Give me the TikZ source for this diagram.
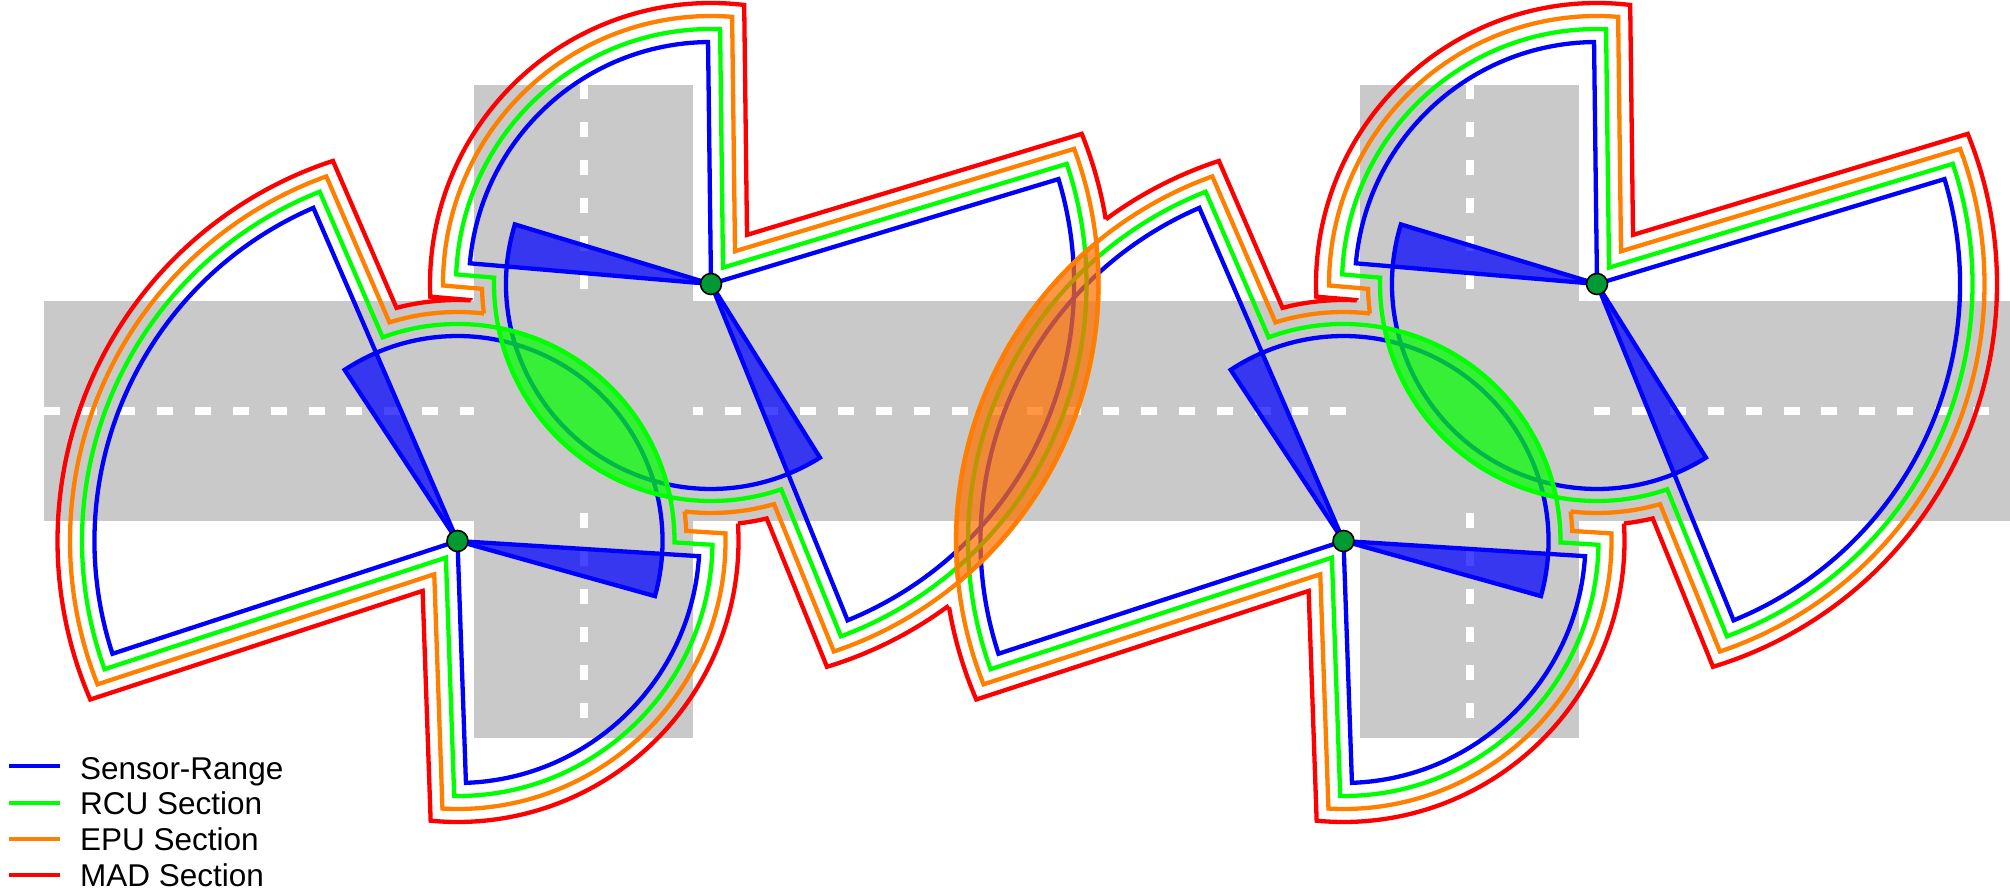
\documentclass[tikz,border=0pt]{standalone}
\usepackage{fontspec}
\setmainfont{Liberation Sans}
\usetikzlibrary{calc}
\definecolor{roadgrey}{RGB}{201,201,201}
\definecolor{cblue}{RGB}{0,0,255}
\definecolor{cgreen}{RGB}{0,255,0}
\definecolor{corange}{RGB}{255,128,0}
\definecolor{clensorange}{RGB}{255,112,0}
\definecolor{cred}{RGB}{255,0,0}
\definecolor{dotgreen}{RGB}{0,153,51}
\tikzset{
  road/.style={fill=roadgrey},
  dashmark/.style={fill=white},
  line/.style={line width=4.3pt,line join=miter,miter limit=40},
  bluel/.style={line,draw=cblue},
  greenl/.style={line,draw=cgreen},
  orangel/.style={line,draw=corange},
  redl/.style={line,draw=cred},
  wedgefill/.style={fill=cblue,fill opacity=.72},
  greenlens/.style={fill=cgreen,draw=cgreen,line width=4.3pt,fill opacity=.72,draw opacity=.72},
  orangelens/.style={fill=clensorange,draw=corange,line width=4.3pt,fill opacity=.72,draw opacity=.72},
  sensordot/.style={circle,fill=dotgreen,draw=black,line width=1.6pt,minimum size=21pt,inner sep=0pt},
  legendtext/.style={anchor=base west,inner sep=0pt,font=\fontsize{31.5}{36}\selectfont},
}
\newif\iftail
% levels: big, small, wide radius and offset
\newcommand\setlevel[4]{\def\Rb{#1}\def\Rs{#2}\def\Rw{#3}\def\dd{#4}}
% #1 style, #2 centre, #3 rotation, #4 #5 cut of the big arc, #6 #7 cut of the wide arc
% with \tailfalse the small arc stops at angle #6 and the wide part is left out
\newcommand\contour[7]{%
  \pgfmathsetmacro\bs{113.4+#3-asin(\dd/\Rb)}%
  \pgfmathsetmacro\be{198.1+#3+asin(\dd/\Rb)}%
  \pgfmathsetmacro\ss{272+#3-asin(\dd/\Rs)}%
  \pgfmathsetmacro\se{356.4+#3+asin(\dd/\Rs)}%
  \pgfmathsetmacro\ws{356.4+#3+asin(\dd/\Rw)}%
  \pgfmathsetmacro\we{473.4+#3-asin(\dd/\Rw)}%
  \pgfmathsetmacro\apa{235.05+#3}%
  \pgfmathsetmacro\apl{\dd/sin(36.95)}%
  \iftail
  \draw[#1] ($(#2)+(#5:\Rb pt)$) arc[start angle=#5,end angle=\be,radius=\Rb pt]
    -- ($(#2)+(\apa:\apl pt)$) -- ($(#2)+(\ss:\Rs pt)$)
    arc[start angle=\ss,end angle=\se,radius=\Rs pt]
    -- ($(#2)+(\ws:\Rw pt)$) arc[start angle=\ws,end angle=#6,radius=\Rw pt];
  \else
  \draw[#1] ($(#2)+(#5:\Rb pt)$) arc[start angle=#5,end angle=\be,radius=\Rb pt]
    -- ($(#2)+(\apa:\apl pt)$) -- ($(#2)+(\ss:\Rs pt)$)
    arc[start angle=\ss,end angle=#6,radius=\Rs pt];
  \fi
  \draw[#1] ($(#2)+(#7:\Rw pt)$) arc[start angle=#7,end angle=\we,radius=\Rw pt]
    -- ($(#2)+(\bs:\Rb pt)$) arc[start angle=\bs,end angle=#4,radius=\Rb pt];
}
% blue sectors and wedges of one sensor: #1 centre, #2 rotation
\newcommand\sectors[2]{%
  \pgfmathsetmacro\ra{113.4+#2}\pgfmathsetmacro\rb{198.1+#2}%
  \pgfmathsetmacro\rc{272+#2}\pgfmathsetmacro\rd{356.4+#2}%
  \pgfmathsetmacro\re{344.4+#2}\pgfmathsetmacro\rf{483.4+#2}%
  \pgfmathsetmacro\rg{473.4+#2}%
  \fill[wedgefill] (#1) -- ($(#1)+(\rg:205pt)$) arc[start angle=\rg,end angle=\rf,radius=205pt] -- cycle;
  \fill[wedgefill] (#1) -- ($(#1)+(\re:205pt)$) arc[start angle=\re,end angle=\rd,radius=205pt] -- cycle;
  \draw[bluel] (#1) -- ($(#1)+(\ra:363pt)$) arc[start angle=\ra,end angle=\rb,radius=363pt] -- cycle;
  \draw[bluel] (#1) -- ($(#1)+(\rc:242pt)$) arc[start angle=\rc,end angle=\rd,radius=242pt] -- cycle;
  \draw[bluel] (#1) -- ($(#1)+(\re:205pt)$) arc[start angle=\re,end angle=\rf,radius=205pt] -- cycle;
}
% lens of the two circles of radius 217 about #1 (lower left) and #2 (upper right)
\newcommand\greenlensat[2]{%
  \path[greenlens] ($(#1)+(79.10:217pt)$) arc[start angle=79.10,end angle=11.68,radius=217pt]
    arc[start angle=259.10,end angle=191.68,radius=217pt] -- cycle;
}
\begin{document}
\begin{tikzpicture}[x=1pt,y=1pt]
\useasboundingbox (0,0) rectangle (2010,891);
\coordinate (A) at (457.5,350);
\coordinate (B) at (711,607);
\coordinate (A2) at (1343.5,350);
\coordinate (B2) at (1597,607);
% roads
\fill[road] (43.6,370.3) rectangle (2010,590);
\foreach \s in {0,886}{
  \fill[road] (474.3+\s,153) rectangle (693.3+\s,806);
}
% horizontal lane marks
\foreach \k in {0,...,11}{
  \pgfmathsetmacro\xa{43.6+37.85*\k}\pgfmathsetmacro\xb{min(\xa+16,474.3)}
  \fill[dashmark] (\xa,476.3) rectangle (\xb,484);
}
\fill[dashmark] (693.3,476.3) rectangle (703,484);
\foreach \k in {0,...,16}{
  \pgfmathsetmacro\xa{724.6+37.85*\k}
  \fill[dashmark] (\xa,476.3) rectangle (\xa+16,484);
}
\foreach \k in {0,...,10}{
  \pgfmathsetmacro\xa{1594.3+37.85*\k}
  \fill[dashmark] (\xa,476.3) rectangle (\xa+16,484);
}
% vertical lane marks
\foreach \s in {0,886}{
  \fill[dashmark] (580+\s,891-85) rectangle (588+\s,891-99.5);
  \foreach \k in {0,...,4}{
    \pgfmathsetmacro\ya{891-122.5-37.9*\k}
    \fill[dashmark] (580+\s,\ya) rectangle (588+\s,\ya-15);
  }
  \foreach \k in {0,...,5}{
    \pgfmathsetmacro\ya{891-513.4-37.9*\k}
    \fill[dashmark] (580+\s,\ya) rectangle (588+\s,\ya-15);
  }
}
% blue sectors
\sectors{A}{0}
\sectors{B}{178.7}
\sectors{A2}{0}
\sectors{B2}{178.7}
\tailtrue
% RCU contours
\setlevel{375.5}{255}{217}{12.2}
\contour{greenl}{A}{0}{155}{155}{400}{400}
\contour{greenl}{B}{178.7}{333}{333}{578}{578}
\contour{greenl}{A2}{0}{155}{155}{400}{400}
\contour{greenl}{B2}{178.7}{333}{333}{578}{578}
% EPU contours
\setlevel{387.5}{268}{229}{24.4}
\contour{orangel}{A}{0}{155}{155}{367.41}{443.37}
\contour{orangel}{B}{178.7}{333}{333}{547.41}{623.37}
\contour{orangel}{A2}{0}{155}{155}{367.41}{443.37}
\contour{orangel}{B2}{178.7}{333}{333}{547.41}{623.37}
% MAD contours
\setlevel{400}{281}{241}{36.6}
\tailfalse
\contour{redl}{A}{0}{155}{155}{363.57}{446.89}
\contour{redl}{A2}{0}{126.46}{189.54}{363.57}{446.89}
\tailtrue
\contour{redl}{B}{178.7}{306.46}{369.32}{543.89}{636.42}
\contour{redl}{B2}{178.7}{333}{333}{543.89}{636.42}
% overlap lenses
\greenlensat{A}{B}
\greenlensat{A2}{B2}
\path[orangelens] ($(B)+(6.13:387.5pt)$) arc[start angle=6.13,end angle=-50.35,radius=387.5pt]
  arc[start angle=186.13,end angle=129.65,radius=387.5pt] -- cycle;
% sensors
\node[sensordot] (dA) at (A) {};
\node[sensordot] (dB) at (B) {};
\node[sensordot] (dA2) at (A2) {};
\node[sensordot] (dB2) at (B2) {};
% legend
\draw[cblue,line width=4.5pt] (9,125) -- (60,125);
\draw[cgreen,line width=4.5pt] (9,88) -- (60,88);
\draw[corange,line width=4.5pt] (9,52.2) -- (60,52.2);
\draw[cred,line width=4.5pt] (9,16) -- (60,16);
\node[legendtext] (l1) at (80,111.5) {Sensor-Range};
\node[legendtext] (l2) at (80,76.3) {RCU Section};
\node[legendtext] (l3) at (80,40.2) {EPU Section};
\node[legendtext] (l4) at (80,4.3) {MAD Section};
\end{tikzpicture}
\end{document}
